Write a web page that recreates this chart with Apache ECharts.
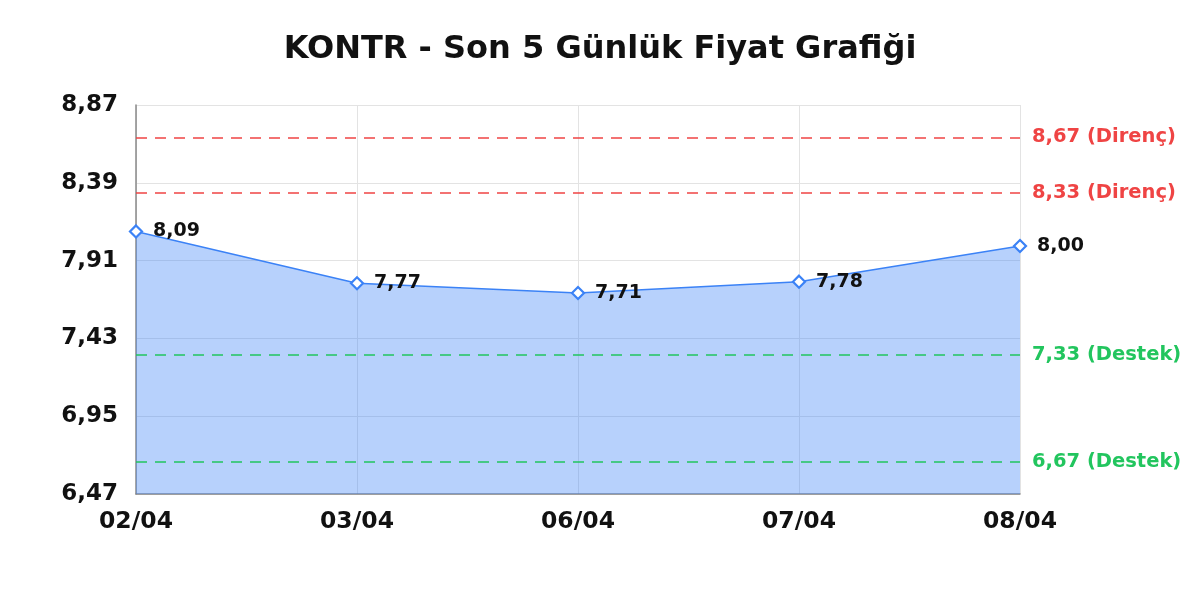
<!DOCTYPE html>
<html>
<head>
<meta charset="utf-8">
<script src="https://cdn.jsdelivr.net/npm/echarts@6/dist/echarts.min.js"></script>
<style>html,body{margin:0;padding:0;background:#fff}#c{width:1200px;height:600px}</style>
</head>
<body>
<div id="c"></div>
<script>
const titleText = 'KONTR - Son 5 Günlük Fiyat Grafiği';
const categories = ['02/04', '03/04', '06/04', '07/04', '08/04'];
const prices = [8.09, 7.77, 7.71, 7.78, 8.00];
const resistance = [8.67, 8.33];
const support = [7.33, 6.67];
const yMin = 6.47, yMax = 8.87, yStep = 0.48;

const fmt = v => v.toFixed(2).replace('.', ',');
const FONT = 'DejaVu Sans';

const markData = [];
resistance.forEach(v => markData.push({
  yAxis: v,
  lineStyle: { color: '#ef4444', type: [11, 8], width: 1.5 },
  label: { color: '#ef4444', formatter: fmt(v) + ' (Direnç)' }
}));
support.forEach(v => markData.push({
  yAxis: v,
  lineStyle: { color: '#22c55e', type: [11, 8], width: 1.5 },
  label: { color: '#22c55e', formatter: fmt(v) + ' (Destek)' }
}));

const chart = echarts.init(document.getElementById('c'));
chart.setOption({
  animation: false,
  backgroundColor: '#fff',
  title: {
    text: titleText, left: 'center', top: 29,
    textStyle: { fontFamily: FONT, fontSize: 32, fontWeight: 'bold', color: '#111' }
  },
  grid: { left: 136, right: 180, top: 105, bottom: 106 },
  xAxis: {
    type: 'category', data: categories, boundaryGap: false,
    axisLine: { lineStyle: { color: '#888', width: 1.5 } },
    axisTick: { show: false },
    axisLabel: { fontFamily: FONT, fontSize: 23.5, fontWeight: 'bold', color: '#111', margin: 16 },
    splitLine: { show: true, lineStyle: { color: '#e3e3e3' } }
  },
  yAxis: {
    type: 'value', min: yMin, max: yMax, interval: yStep,
    axisLine: { show: true, lineStyle: { color: '#888', width: 1.5 } },
    axisTick: { show: false },
    axisLabel: { fontFamily: FONT, fontSize: 23, fontWeight: 'bold', color: '#111', margin: 18, formatter: v => fmt(v) },
    splitLine: { lineStyle: { color: '#e3e3e3' } }
  },
  series: [{
    type: 'line', data: prices,
    symbol: 'diamond', symbolSize: 12,
    lineStyle: { color: '#3b82f6', width: 1.5 },
    itemStyle: { color: '#fff', borderColor: '#3b82f6', borderWidth: 2.2 },
    areaStyle: { color: '#3b82f6', opacity: 0.37 },
    label: {
      show: true, position: 'right', distance: 10,
      fontFamily: FONT, fontSize: 19, fontWeight: 'bold', color: '#111',
      formatter: p => fmt(p.value)
    },
    markLine: {
      silent: true, symbol: 'none',
      label: { position: 'end', distance: 12, fontFamily: FONT, fontSize: 19.5, fontWeight: 'bold' },
      data: markData
    }
  }]
});
</script>
</body>
</html>
